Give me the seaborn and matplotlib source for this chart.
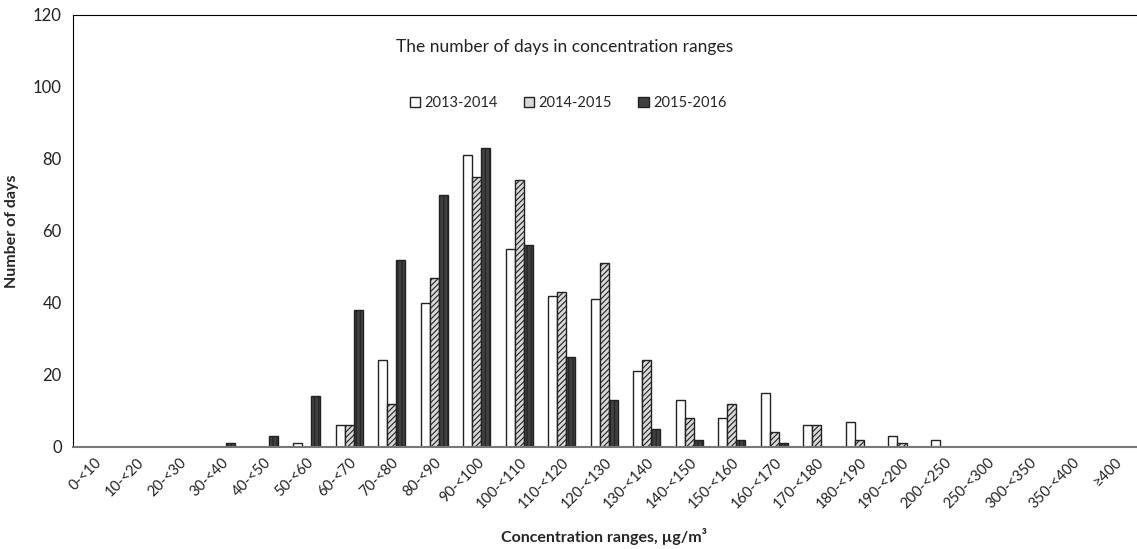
import numpy as np
import pandas as pd
import matplotlib
matplotlib.use('Agg')
import matplotlib.pyplot as plt
import seaborn as sns

ranges = ['0-<10', '10-<20', '20-<30', '30-<40', '40-<50', '50-<60', '60-<70',
          '70-<80', '80-<90', '90-<100', '100-<110', '110-<120', '120-<130',
          '130-<140', '140-<150', '150-<160', '160-<170', '170-<180', '180-<190',
          '190-<200', '200-<250', '250-<300', '300-<350', '350-<400', '≥400']
seasons = ['2013-2014', '2014-2015', '2015-2016']
days_1314 = [0, 0, 0, 0, 0, 1, 6, 24, 40, 81, 55, 42, 41, 21, 13, 8, 15, 6, 7, 3, 2, 0, 0, 0, 0]
days_1415 = [0, 0, 0, 0, 0, 0, 6, 12, 47, 75, 74, 43, 51, 24, 8, 12, 4, 6, 2, 1, 0, 0, 0, 0, 0]
days_1516 = [0, 0, 0, 1, 3, 14, 38, 52, 70, 83, 56, 25, 13, 5, 2, 2, 1, 0, 0, 0, 0, 0, 0, 0, 0]

sns.set_style('white')
plt.rcParams['font.family'] = ['Lato', 'DejaVu Sans']
plt.rcParams['hatch.linewidth'] = 0.8

df = pd.DataFrame({'range': ranges * 3,
                   'season': np.repeat(seasons, len(ranges)),
                   'days': days_1314 + days_1415 + days_1516})

fig = plt.figure(figsize=(11.37, 5.49), dpi=100)
ax = fig.add_axes([0.064, 0.186, 0.935, 0.787])

pal = {'2013-2014': 'white', '2014-2015': '#d9d9d9', '2015-2016': '#404040'}
sns.barplot(data=df, x='range', y='days', hue='season', palette=pal,
            width=0.64, edgecolor='#222222', linewidth=1.0, ax=ax, legend=True)

hatches = ['', '//////', '||||']
for cont, h in zip(ax.containers, hatches):
    for bar in cont:
        bar.set_hatch(h)
        if bar.get_height() == 0:
            bar.set_visible(False)

ax.set_ylim(0, 120)
ax.set_yticks(range(0, 121, 20))
ax.set_xlim(-0.5, len(ranges) - 0.5)
ax.tick_params(axis='y', labelsize=12, length=0, pad=8, colors='#222222')
ax.tick_params(axis='x', labelsize=10.5, length=0, pad=6, colors='#222222')
plt.setp(ax.get_xticklabels(), rotation=45, ha='right', rotation_mode='anchor')

ax.spines['right'].set_visible(False)
ax.spines['left'].set_color('black')
ax.spines['top'].set_color('black')
ax.spines['bottom'].set_color('#777777')
ax.spines['bottom'].set_linewidth(1.5)

ax.set_xlabel('Concentration ranges, µg/m³', fontsize=11.5, fontweight='bold', labelpad=12)
ax.set_ylabel('Number of days', fontsize=11.5, fontweight='bold', labelpad=10)

ax.text(0.463, 0.925, 'The number of days in concentration ranges', transform=ax.transAxes,
        ha='center', va='center', fontsize=12.5, color='#222222')

leg = ax.legend(loc='center', bbox_to_anchor=(0.466, 0.795), ncol=3, frameon=False,
                fontsize=10.5, handlelength=0.7, handleheight=0.7, handletextpad=0.3,
                columnspacing=1.8, title=None)

fig.savefig('out.png', dpi=100)
